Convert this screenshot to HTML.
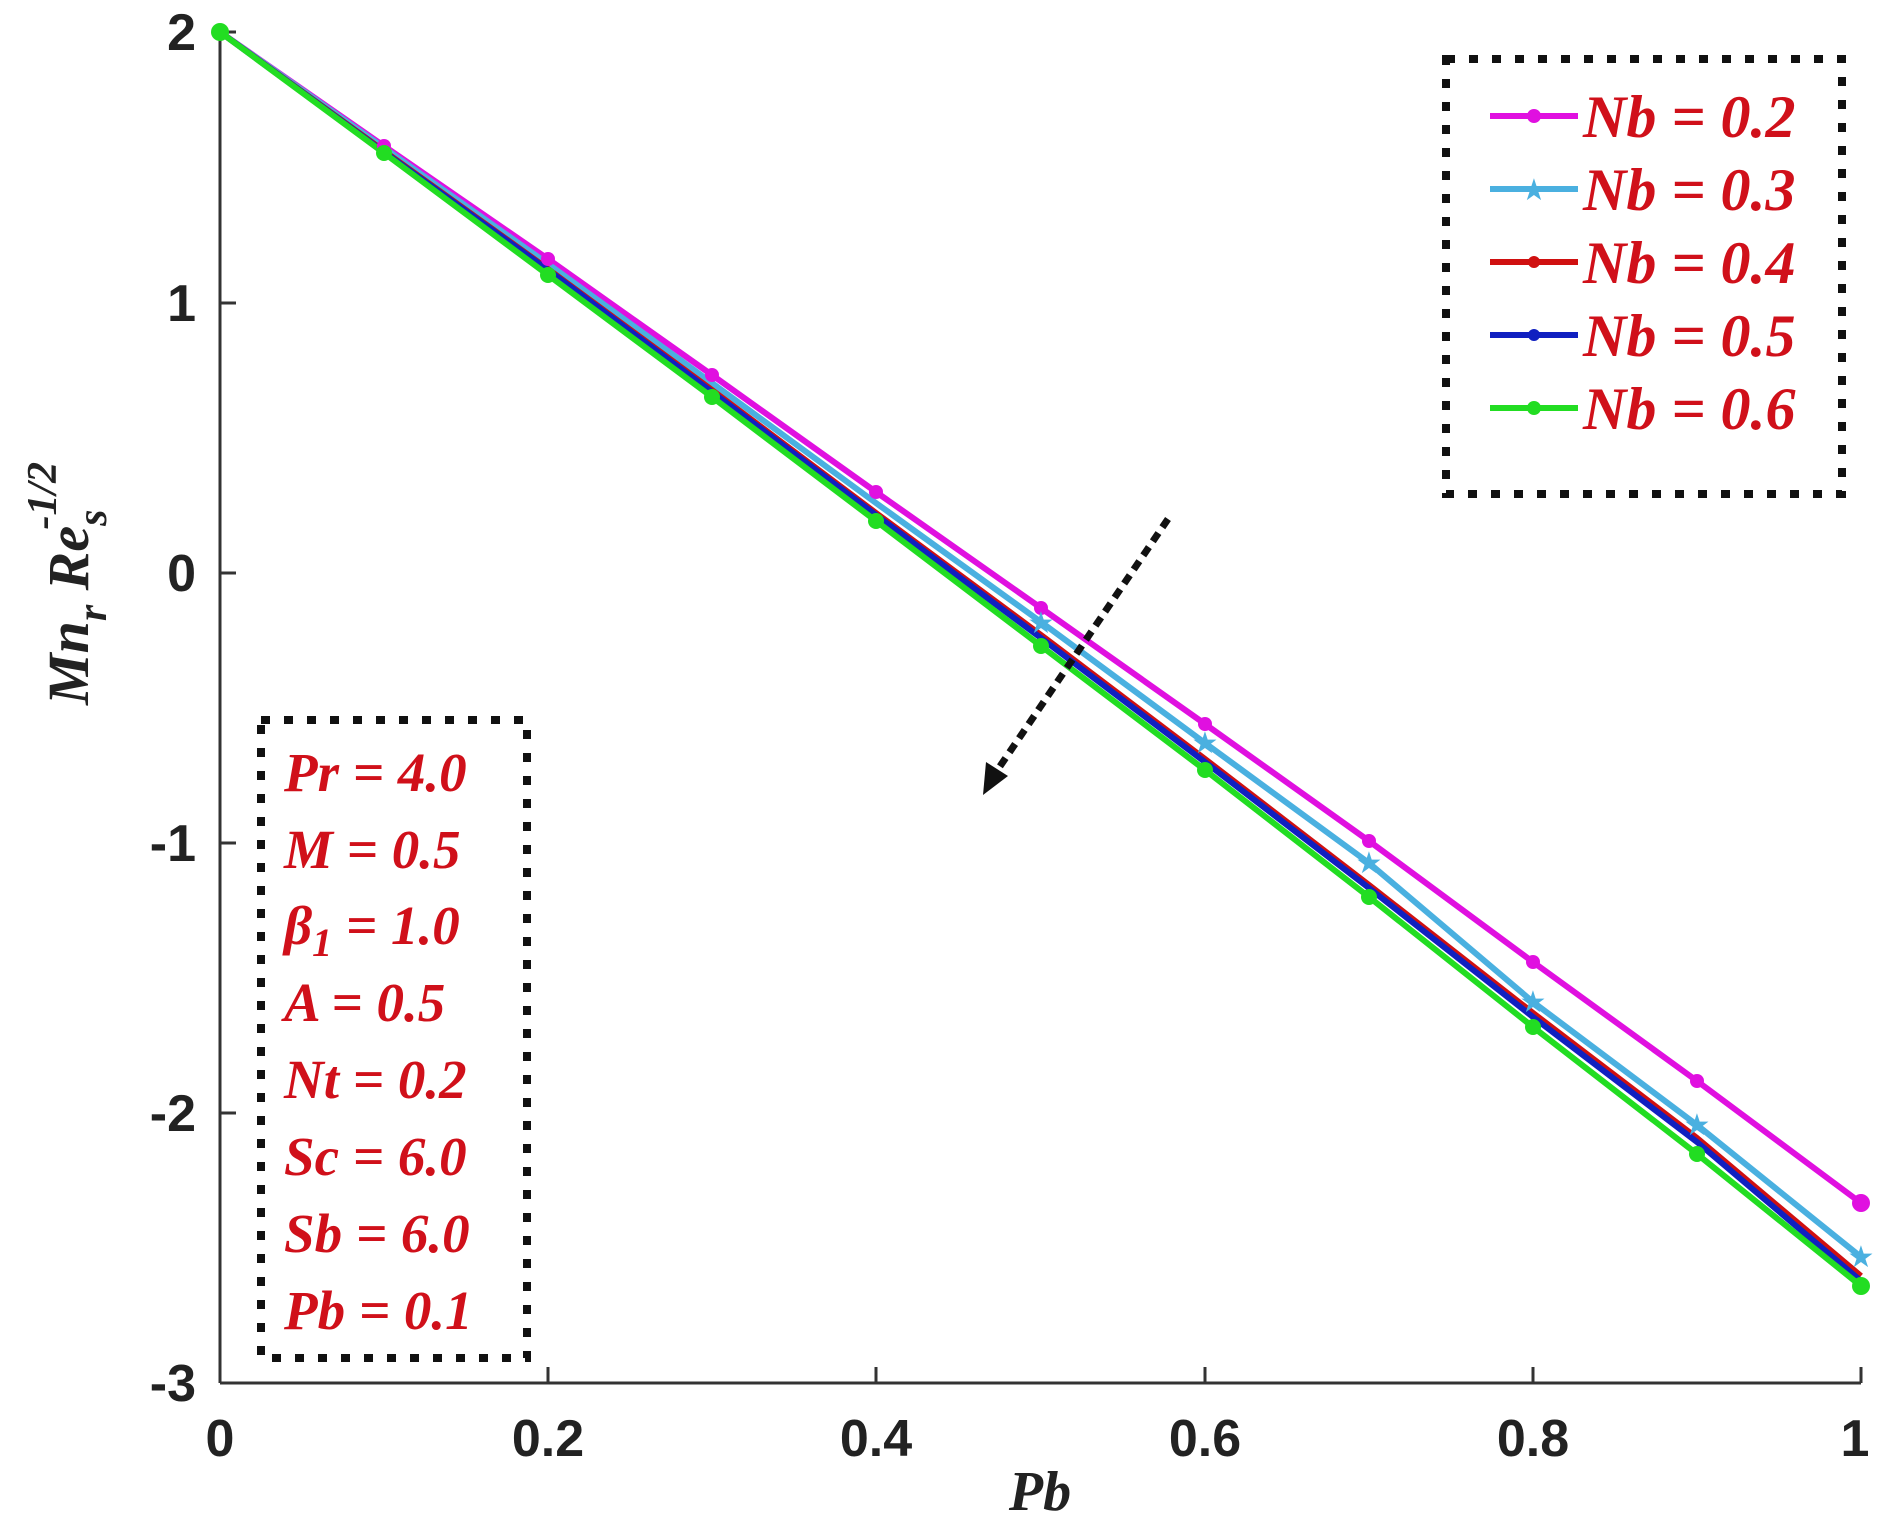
<!DOCTYPE html>
<html><head><meta charset="utf-8"><style>body{margin:0;background:#fff}svg{display:block}</style></head><body>
<svg width="1892" height="1538" viewBox="0 0 1892 1538" xmlns="http://www.w3.org/2000/svg">
<g stroke="#333" stroke-width="3" fill="none">
<line x1="220" y1="32" x2="220" y2="1383"/>
<line x1="220" y1="1383" x2="1861" y2="1383"/>
<line x1="220" y1="32" x2="236" y2="32"/><line x1="220" y1="303" x2="236" y2="303"/><line x1="220" y1="573" x2="236" y2="573"/><line x1="220" y1="843" x2="236" y2="843"/><line x1="220" y1="1113" x2="236" y2="1113"/>
<line x1="548" y1="1383" x2="548" y2="1367"/><line x1="876" y1="1383" x2="876" y2="1367"/><line x1="1205" y1="1383" x2="1205" y2="1367"/><line x1="1533" y1="1383" x2="1533" y2="1367"/><line x1="1861" y1="1383" x2="1861" y2="1367"/>
</g>
<g font-family="Liberation Sans, sans-serif" font-weight="bold" font-size="52" fill="#222">
<g text-anchor="end"><text x="196" y="50">2</text><text x="196" y="321">1</text><text x="196" y="591">0</text><text x="196" y="861">-1</text><text x="196" y="1131">-2</text><text x="196" y="1401">-3</text></g>
<g text-anchor="middle"><text x="220" y="1456">0</text><text x="548" y="1456">0.2</text><text x="876" y="1456">0.4</text><text x="1205" y="1456">0.6</text><text x="1533" y="1456">0.8</text><text x="1855" y="1456">1</text></g>
</g>
<text x="1040" y="1510" font-family="Liberation Serif, serif" font-style="italic" font-weight="bold" font-size="56" text-anchor="middle" fill="#222">Pb</text>
<text transform="translate(88,705) rotate(-90)" font-family="Liberation Serif, serif" font-style="italic" font-weight="bold" font-size="58" fill="#222">Mn<tspan dy="18" font-size="42">r</tspan><tspan dy="-18"> Re</tspan><tspan dy="18" font-size="42">s</tspan><tspan dy="-50" dx="-20" font-size="42">-1/2</tspan></text>
<g fill="none" stroke-width="6" stroke-linejoin="round">
<polyline stroke="#e010e0" points="220,32 384,146 548,259 712,375 876,492 1041,608 1205,724 1369,841 1533,962 1697,1081 1861,1203"/>
<polyline stroke="#4ab0e0" points="220,32 384,148 548,264 712,383 876,503 1041,622 1205,743 1369,863 1533,1002 1697,1125 1861,1257"/>
<polyline stroke="#d01010" points="220,32 384,151 548,269 712,390 876,513 1041,635 1205,759 1369,885 1533,1013 1697,1138 1861,1276"/>
<polyline stroke="#1020c0" points="220,32 384,152 548,270 712,392 876,515 1041,638 1205,762 1369,888 1533,1017 1697,1142 1861,1281"/>
<polyline stroke="#22dd22" points="220,32 384,153 548,275 712,397 876,521 1041,646 1205,770 1369,897 1533,1027 1697,1154 1861,1286"/>
</g>
<g fill="#e010e0"><circle cx="384" cy="146" r="7"/><circle cx="548" cy="259" r="7"/><circle cx="712" cy="375" r="7"/><circle cx="876" cy="492" r="7"/><circle cx="1041" cy="608" r="7"/><circle cx="1205" cy="724" r="7"/><circle cx="1369" cy="841" r="7"/><circle cx="1533" cy="962" r="7"/><circle cx="1697" cy="1081" r="7"/><circle cx="1861" cy="1203" r="9"/></g>
<g fill="#4ab0e0" font-size="30" text-anchor="middle" font-family="DejaVu Sans"><text x="1041" y="633">★</text><text x="1205" y="753">★</text><text x="1369" y="873">★</text><text x="1533" y="1012">★</text><text x="1697" y="1135">★</text><text x="1861" y="1267">★</text></g>
<g fill="#22dd22"><circle cx="220" cy="32" r="9"/><circle cx="384" cy="153" r="8"/><circle cx="548" cy="275" r="8"/><circle cx="712" cy="397" r="8"/><circle cx="876" cy="521" r="8"/><circle cx="1041" cy="646" r="8"/><circle cx="1205" cy="770" r="8"/><circle cx="1369" cy="897" r="8"/><circle cx="1533" cy="1027" r="8"/><circle cx="1697" cy="1154" r="8"/><circle cx="1861" cy="1286" r="9"/></g>
<line x1="1168" y1="519" x2="992" y2="778" stroke="#111" stroke-width="7" stroke-dasharray="10,7"/>
<polygon points="983,795 986,762 1008,776" fill="#111"/>
<rect x="1446" y="59" width="396" height="435" fill="none" stroke="#111" stroke-width="8" stroke-dasharray="9,14"/>
<g stroke-width="6">
<line x1="1490" y1="116" x2="1578" y2="116" stroke="#e010e0"/><line x1="1490" y1="189" x2="1578" y2="189" stroke="#4ab0e0"/><line x1="1490" y1="262" x2="1578" y2="262" stroke="#d01010"/><line x1="1490" y1="335" x2="1578" y2="335" stroke="#1020c0"/><line x1="1490" y1="408" x2="1578" y2="408" stroke="#22dd22"/>
</g>
<circle cx="1534" cy="116" r="7" fill="#e010e0"/><text x="1534" y="200" font-size="30" text-anchor="middle" fill="#4ab0e0" font-family="DejaVu Sans">★</text><circle cx="1534" cy="262" r="6" fill="#d01010"/><circle cx="1534" cy="335" r="6" fill="#1020c0"/><circle cx="1534" cy="408" r="7" fill="#22dd22"/>
<g font-family="Liberation Serif, serif" font-style="italic" font-weight="bold" font-size="60" fill="#d0101a">
<text x="1583" y="137">Nb = 0.2</text><text x="1583" y="210">Nb = 0.3</text><text x="1583" y="283">Nb = 0.4</text><text x="1583" y="356">Nb = 0.5</text><text x="1583" y="429">Nb = 0.6</text>
</g>
<rect x="261" y="720" width="266" height="638" fill="none" stroke="#111" stroke-width="8" stroke-dasharray="9,14"/>
<g font-family="Liberation Serif, serif" font-style="italic" font-weight="bold" font-size="55" fill="#d0101a">
<text x="284" y="791">Pr = 4.0</text><text x="284" y="868">M = 0.5</text><text x="284" y="944">β<tspan dy="12" font-size="40">1</tspan><tspan dy="-12"> = 1.0</tspan></text><text x="284" y="1021">A = 0.5</text><text x="284" y="1098">Nt = 0.2</text><text x="284" y="1175">Sc = 6.0</text><text x="284" y="1252">Sb = 6.0</text><text x="284" y="1329">Pb = 0.1</text>
</g>
</svg>
</body></html>
